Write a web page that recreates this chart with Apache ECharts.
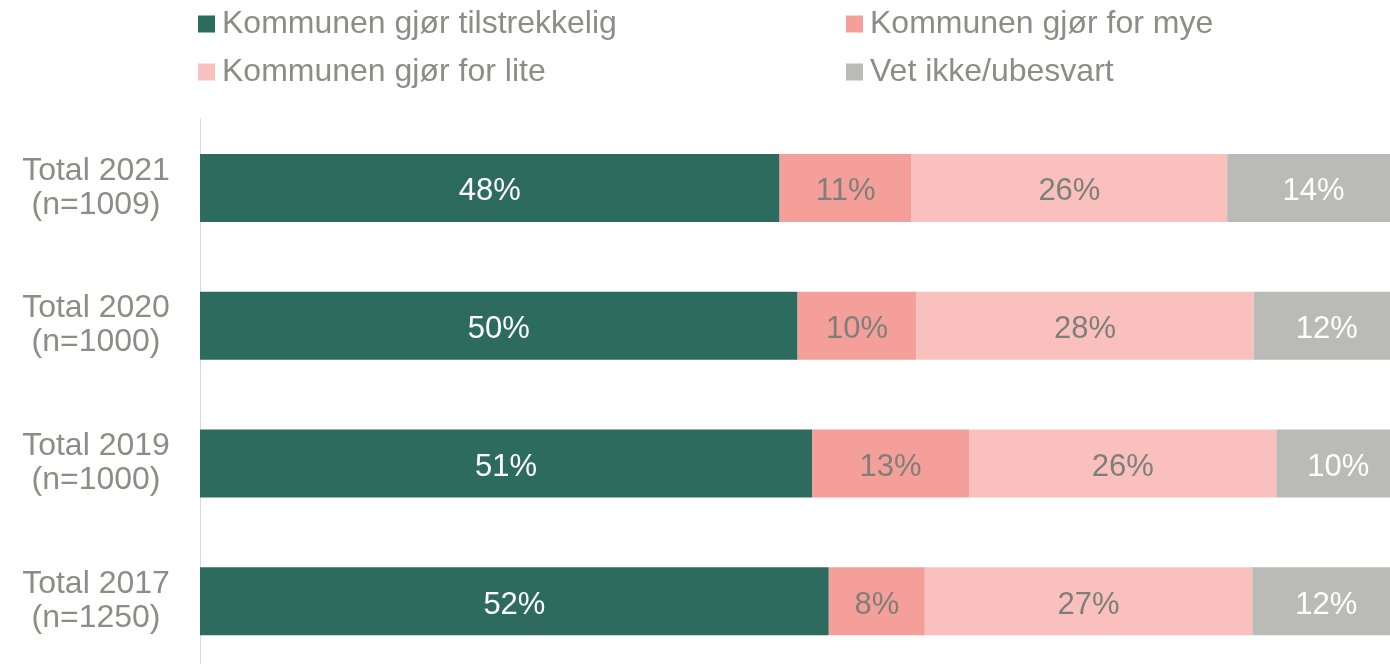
<html>
<head>
    <meta charset='utf-8'/>
    <title>Kommunen gjør</title>
    <style>
        body {
            margin: 0;
            padding: 0;
            background: #ffffff;
        }

        #chart {
            width: 1390px;
            height: 664px;
        }
    </style>
</head>
<body>
<div id='chart'></div>
<script type="text/javascript" src="https://cdn.jsdelivr.net/npm/echarts@6.0.0/dist/echarts.min.js"></script>
<script type="text/javascript">
    var categories = ['Total 2021\n(n=1009)', 'Total 2020\n(n=1000)', 'Total 2019\n(n=1000)', 'Total 2017\n(n=1250)'];
    var seriesNames = ['Kommunen gjør tilstrekkelig', 'Kommunen gjør for mye', 'Kommunen gjør for lite', 'Vet ikke/ubesvart'];
    var tilstrekkelig = [48.3, 49.8, 51.0, 52.4];
    var forMye = [11.0, 9.9, 13.1, 8.0];
    var forLite = [26.3, 28.1, 25.6, 27.3];
    var vetIkke = [14.4, 12.2, 10.3, 12.3];

    var colors = ['#2e6b5f', '#f59f9b', '#f9c0bd', '#babab7'];
    var labelColors = ['#ffffff', '#7f7f7a', '#7f7f7a', '#ffffff'];
    var font = 'Liberation Sans';

    var values = [tilstrekkelig, forMye, forLite, vetIkke];
    var series = seriesNames.map(function (name, i) {
        return {
            name: name,
            type: 'bar',
            stack: 'total',
            barWidth: 68,
            data: values[i],
            itemStyle: {color: colors[i]},
            label: {
                show: true,
                position: 'inside',
                offset: [0, 4],
                color: labelColors[i],
                fontFamily: font,
                fontSize: 31,
                formatter: function (p) {
                    return Math.round(p.value) + '%';
                }
            }
        };
    });

    var legendText = {
        color: '#8c8c88',
        fontFamily: font,
        fontSize: 32,
        lineHeight: 34,
        padding: [0, 0, 0, 2]
    };

    var chart = echarts.init(document.getElementById('chart'));
    chart.setOption({
        animation: false,
        color: colors,
        legend: [{
            orient: 'vertical',
            left: 198,
            top: 7,
            padding: 0,
            itemGap: 14,
            itemWidth: 17,
            itemHeight: 17,
            icon: 'rect',
            data: [seriesNames[0], seriesNames[2]],
            textStyle: legendText
        }, {
            orient: 'vertical',
            left: 846,
            top: 7,
            padding: 0,
            itemGap: 14,
            itemWidth: 17,
            itemHeight: 17,
            icon: 'rect',
            data: [seriesNames[1], seriesNames[3]],
            textStyle: legendText
        }],
        grid: {
            left: 200,
            width: 1200,
            top: 119,
            height: 551,
            outerBoundsMode: 'none'
        },
        xAxis: {
            type: 'value',
            min: 0,
            max: 100,
            show: false
        },
        yAxis: {
            type: 'category',
            inverse: true,
            data: categories,
            axisLine: {show: true, lineStyle: {color: '#d9d9d9', width: 1}},
            axisTick: {show: false},
            axisLabel: {
                align: 'center',
                margin: 104,
                padding: [4, 0, 0, 0],
                color: '#8c8c88',
                fontFamily: font,
                fontSize: 32,
                lineHeight: 34
            }
        },
        series: series
    });
</script>
</body>
</html>
